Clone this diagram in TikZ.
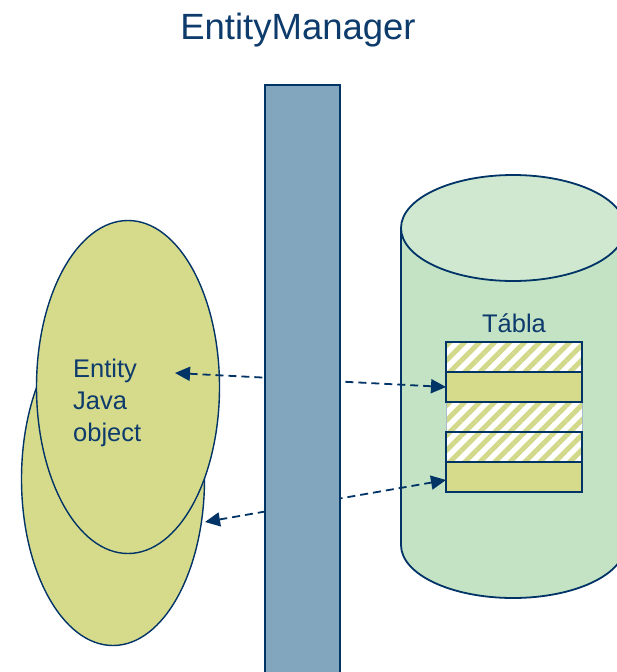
\documentclass[tikz,border=0pt]{standalone}
\usepackage{fontspec}
\setmainfont{Liberation Sans}
\usetikzlibrary{arrows.meta,patterns.meta,shapes.geometric}
\definecolor{ink}{HTML}{003366}
\definecolor{textblue}{HTML}{0D3B6B}
\definecolor{barfill}{HTML}{82A6BE}
\definecolor{objfill}{HTML}{D6DB8C}
\definecolor{cylbody}{HTML}{C4E2C4}
\definecolor{cyltop}{HTML}{D0E8D0}
\definecolor{hatchc}{HTML}{D3D98A}
\definecolor{faint}{HTML}{A9BCCB}
\begin{document}
\begin{tikzpicture}[x=1pt,y=1pt,
  outline/.style={draw=ink,line width=1.8pt},
  objshape/.style={ellipse,draw=ink,line width=1.4pt,fill=objfill,inner sep=0pt,
    minimum width=183pt,minimum height=333pt},
  solidrow/.style={rectangle,inner sep=0pt,outer sep=0pt,minimum width=136pt,
    minimum height=30pt,fill=objfill},
  hatchrow/.style={rectangle,inner sep=0pt,outer sep=0pt,minimum width=136pt,minimum height=30pt,
    preaction={fill=white},pattern={Lines[angle=45,distance=10.6pt,line width=5pt]},
    pattern color=hatchc},
  link/.style={draw=ink,line width=1.8pt,dash pattern=on 8pt off 5pt,
    {Triangle[length=15pt,width=14pt]}-{Triangle[length=15pt,width=14pt]}},
  txt/.style={text=textblue,inner sep=0pt}
]
\useasboundingbox (0,0) rectangle (617,-672);
\clip (0,0) rectangle (617,-672);
\fill[white] (0,0) rectangle (617,-672);

% database cylinder
\fill[cylbody] (401,-228) -- (401,-545)
  arc[start angle=180,end angle=360,x radius=112,y radius=53] -- (625,-228) -- cycle;
\draw[outline] (401,-228) -- (401,-545)
  arc[start angle=180,end angle=360,x radius=112,y radius=53] -- (625,-228);
\draw[outline,fill=cyltop] (513,-228) ellipse [x radius=112,y radius=53];

% table rows
\node[hatchrow] (r1) at (514,-357) {};
\node[solidrow] (r2) at (514,-387) {};
\node[hatchrow,draw=faint,line width=0.6pt] (r3) at (514,-417) {};
\node[hatchrow] (r4) at (514,-447) {};
\node[solidrow] (r5) at (514,-477) {};
\foreach \r in {r1,r2,r4,r5} \draw[outline] (\r.south west) rectangle (\r.north east);
\node[txt,font=\fontsize{25.5}{32}\selectfont,anchor=base] (tab) at (514,-332) {Tábla};

% java objects
\node[objshape] (objB) at (113,-479) {};
\node[objshape] (objA) at (128,-387) {};
\node[txt,align=left,anchor=base west,font=\fontsize{25.5}{32}\selectfont] (ent) at (73,-441)
  {Entity\\Java\\object};

% mappings
\coordinate (pa) at (175,-373);
\coordinate (pb) at (205,-522);
\draw[link] (pa) -- (r2.west);
\draw[link] (pb) -- ([yshift=-3pt]r5.west);

% entity manager bar
\draw[outline,fill=barfill] (265,-85) rectangle (340,-690);
\node[txt,font=\fontsize{36.5}{44}\selectfont,anchor=base] (title) at (298,-39) {EntityManager};
\end{tikzpicture}
\end{document}
